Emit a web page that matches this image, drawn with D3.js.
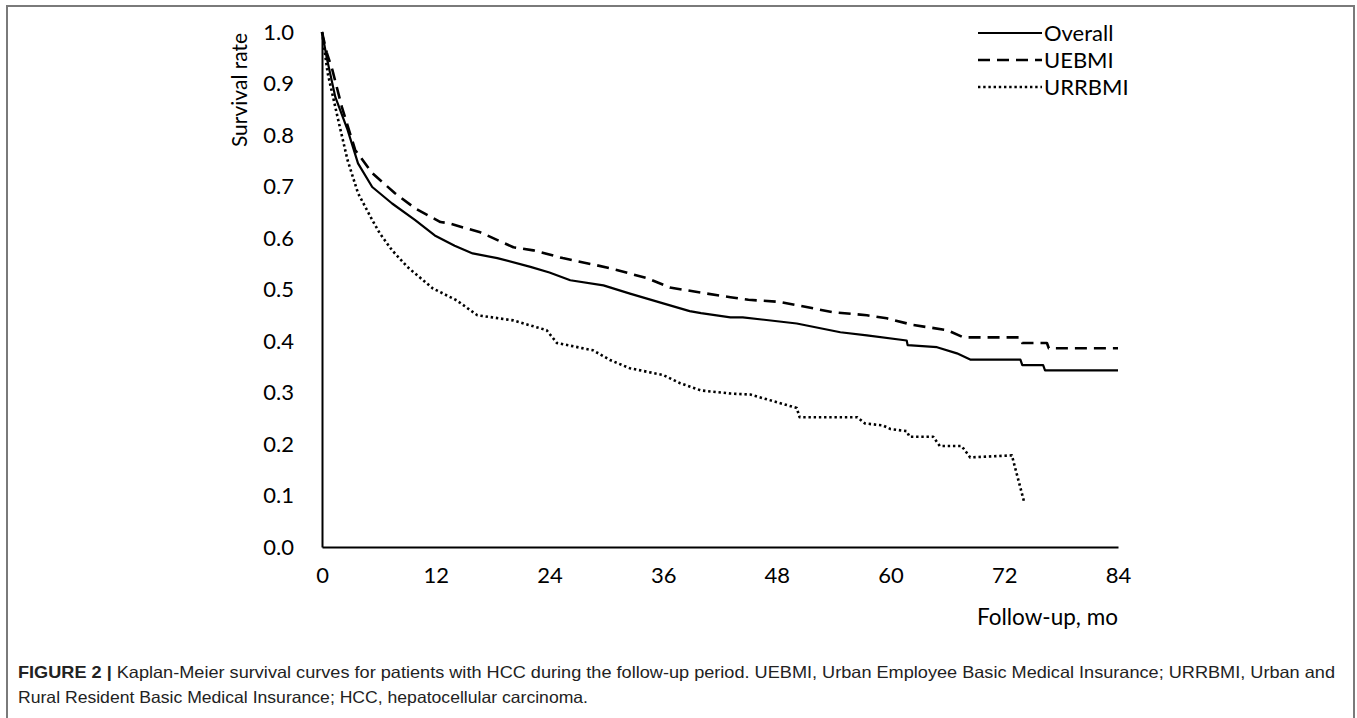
<!DOCTYPE html>
<html>
<head>
<meta charset="utf-8">
<script src="https://cdn.jsdelivr.net/npm/d3@7"></script>
<style>
  body { margin: 0; background: #fff; }
  .chart text { font-family: Lato, "Open Sans", sans-serif; fill: #000; }
  .chart text.caption { font-family: "Liberation Sans", Arial, sans-serif; fill: #222; }
</style>
</head>
<body>
<svg class="chart" width="1357" height="718"></svg>
<script>
/*
      Data (months, survival rate)
*/
const overallMonths = [0, 0.5, 1.4, 2.7, 3.8, 5.3, 7.4, 9.8, 11.9, 14, 15.9, 18.5, 22, 24, 26.2, 29.7, 32.5, 36, 38.8, 40, 43.1, 44.4, 50.1, 54.7, 57.5, 61.7, 61.8, 64.9, 67, 68.4, 73.7, 73.9, 76.1, 76.3, 84];
const overallRate = [1, 0.95, 0.874, 0.81, 0.745, 0.699, 0.667, 0.635, 0.605, 0.585, 0.57, 0.561, 0.544, 0.533, 0.518, 0.508, 0.492, 0.473, 0.458, 0.454, 0.446, 0.446, 0.434, 0.417, 0.411, 0.401, 0.392, 0.388, 0.376, 0.364, 0.364, 0.353, 0.353, 0.343, 0.343];

const uebmiMonths = [0, 0.5, 1.1, 2.1, 3.5, 5.3, 7.7, 9.8, 12.5, 13.3, 16.7, 20.2, 22.3, 25.4, 29, 31.1, 34.3, 36.7, 39.6, 43.1, 45, 48.3, 50, 53.9, 57.5, 59.6, 62.4, 66, 67.7, 73.7, 73.9, 76.5, 76.7, 84];
const uebmiRate = [1, 0.96, 0.926, 0.854, 0.771, 0.726, 0.687, 0.658, 0.631, 0.629, 0.611, 0.582, 0.576, 0.561, 0.547, 0.538, 0.522, 0.504, 0.495, 0.485, 0.48, 0.476, 0.47, 0.456, 0.45, 0.444, 0.431, 0.421, 0.407, 0.407, 0.396, 0.396, 0.386, 0.386];

const urrbmiMonths = [0, 0.6, 1.7, 2.7, 3.8, 5.3, 6.1, 7.4, 9, 11.7, 14.2, 16.4, 20.2, 23.7, 24.8, 28.6, 30.4, 32.5, 36, 37.8, 40, 43.1, 45.2, 50.1, 50.4, 56.5, 57.3, 59.2, 60, 61.7, 62, 64.5, 65.2, 67.5, 68.4, 72.8, 74.1];
const urrbmiRate = [1, 0.92, 0.83, 0.751, 0.687, 0.635, 0.609, 0.576, 0.544, 0.502, 0.479, 0.45, 0.44, 0.421, 0.396, 0.382, 0.363, 0.347, 0.334, 0.318, 0.304, 0.298, 0.296, 0.27, 0.252, 0.252, 0.24, 0.236, 0.229, 0.225, 0.214, 0.214, 0.196, 0.196, 0.174, 0.178, 0.087];

const seriesNames = ["Overall", "UEBMI", "URRBMI"];
const xTicks = [0, 12, 24, 36, 48, 60, 72, 84];
const yTicks = [0, 0.1, 0.2, 0.3, 0.4, 0.5, 0.6, 0.7, 0.8, 0.9, 1.0];

const captionBold = "FIGURE 2 |";
const captionLine1 = " Kaplan-Meier survival curves for patients with HCC during the follow-up period. UEBMI, Urban Employee Basic Medical Insurance; URRBMI, Urban and";
const captionLine2 = "Rural Resident Basic Medical Insurance; HCC, hepatocellular carcinoma.";

/*
      Setup
*/
const svg = d3.select(".chart");
const plot = { left: 322, right: 1118, top: 32, bottom: 547 };

const x = d3.scaleLinear().domain([0, 84]).range([plot.left, plot.right]);
const y = d3.scaleLinear().domain([0, 1]).range([plot.bottom, plot.top]);

const styles = {
  Overall: { width: 2.2, dash: null },
  UEBMI: { width: 2.6, dash: "12,7" },
  URRBMI: { width: 2.6, dash: "2.4,2.8" },
};

const series = [
  { name: "Overall", values: overallMonths.map((m, i) => [m, overallRate[i]]) },
  { name: "UEBMI", values: uebmiMonths.map((m, i) => [m, uebmiRate[i]]) },
  { name: "URRBMI", values: urrbmiMonths.map((m, i) => [m, urrbmiRate[i]]) },
];

// frame
svg
  .append("path")
  .attr("d", "M7,718V6H1354V718")
  .attr("fill", "none")
  .attr("stroke", "#7a7a7a")
  .attr("stroke-width", 2);

/*
      Axes
*/
const xAxis = svg
  .append("g")
  .attr("transform", `translate(0,${plot.bottom})`)
  .call(d3.axisBottom(x).tickValues(xTicks).tickSize(0).tickPadding(20));
xAxis.select(".domain").attr("stroke", "#000").attr("stroke-width", 2);

const yAxis = svg
  .append("g")
  .attr("transform", `translate(${plot.left},0)`)
  .call(d3.axisLeft(y).tickValues(yTicks).tickFormat(d3.format(".1f")).tickSize(0).tickPadding(28));
yAxis.select(".domain").attr("stroke", "#000").attr("stroke-width", 2);
svg.selectAll(".tick text").attr("font-family", "Lato, sans-serif").attr("font-size", "22px").attr("fill", "#000");

svg
  .append("text")
  .attr("transform", "translate(247,90) rotate(-90)")
  .attr("text-anchor", "middle")
  .attr("font-size", "21px")
  .text("Survival rate");

svg
  .append("text")
  .attr("x", plot.right)
  .attr("y", 625)
  .attr("text-anchor", "end")
  .attr("font-size", "22.5px")
  .text("Follow-up, mo");

/*
      Curves
*/
const line = d3
  .line()
  .x((d) => x(d[0]))
  .y((d) => y(d[1]));

svg
  .append("g")
  .selectAll("path")
  .data(series)
  .join("path")
  .attr("d", (d) => line(d.values))
  .attr("fill", "none")
  .attr("stroke", "#000")
  .attr("stroke-width", (d) => styles[d.name].width)
  .attr("stroke-dasharray", (d) => styles[d.name].dash)
  .attr("stroke-linejoin", "round");

/*
      Legend
*/
const legend = svg
  .append("g")
  .selectAll("g")
  .data(seriesNames)
  .join("g")
  .attr("transform", (d, i) => `translate(978,${33 + i * 27})`);

legend
  .append("line")
  .attr("x1", 0)
  .attr("x2", 64)
  .attr("stroke", "#000")
  .attr("stroke-width", (d) => styles[d].width)
  .attr("stroke-dasharray", (d) => styles[d].dash);

legend
  .append("text")
  .attr("x", 66)
  .attr("dy", "0.35em")
  .attr("font-size", "22px")
  .text((d) => d);

/*
      Caption
*/
const cap1 = svg
  .append("text")
  .attr("class", "caption")
  .attr("x", 18)
  .attr("y", 678)
  .attr("font-size", "16.5px")
  .attr("textLength", 1317)
  .attr("lengthAdjust", "spacingAndGlyphs");
cap1.append("tspan").attr("font-weight", "bold").text(captionBold);
cap1.append("tspan").text(captionLine1);

svg
  .append("text")
  .attr("class", "caption")
  .attr("x", 18)
  .attr("y", 703)
  .attr("font-size", "16.5px")
  .attr("textLength", 570)
  .attr("lengthAdjust", "spacingAndGlyphs")
  .text(captionLine2);
</script>
</body>
</html>
